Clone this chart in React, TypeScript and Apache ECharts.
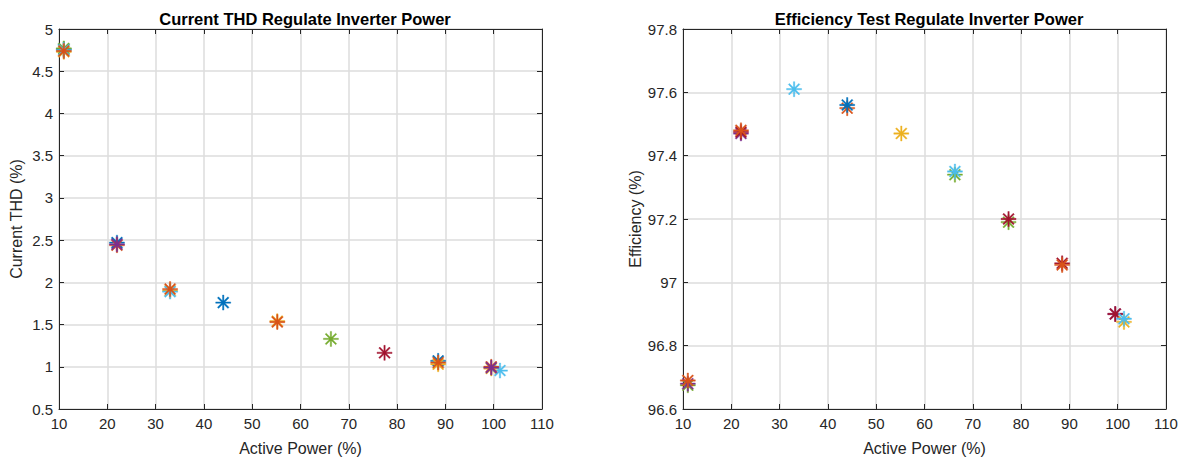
import React, { useEffect, useRef } from "react";
import * as echarts from "echarts";

// ---- data (x = active power %, y = value) ----
const xTicksMin = 10;
const xTicksMax = 110;

// Left: Current THD (%)
const thdBlue = [[11, 4.76], [22, 2.47], [44, 1.76], [88.5, 1.07]];
const thdOrange = [[11, 4.74], [22, 2.44], [33, 1.92], [55.2, 1.53], [88.5, 1.05], [99.5, 1.0]];
const thdYellow = [[11, 4.73], [33, 1.9], [55.2, 1.54], [88.5, 1.03], [99.5, 0.98]];
const thdPurple = [[22, 2.45], [99.5, 0.99]];
const thdGreen = [[11, 4.77], [66.3, 1.33]];
const thdLightBlue = [[11, 4.75], [33, 1.89], [101.3, 0.955]];
const thdRed = [[77.4, 1.165]];

// Right: Efficiency (%)
const effBlue = [[44, 97.56]];
const effOrange = [[11, 96.69], [22, 97.48], [44, 97.55], [88.5, 97.055]];
const effYellow = [[55.2, 97.47], [101.3, 96.875]];
const effPurple = [[11, 96.68], [22, 97.47], [99.5, 96.9]];
const effGreen = [[11, 96.675], [66.3, 97.34], [77.4, 97.19]];
const effLightBlue = [[33, 97.61], [66.3, 97.35], [101.3, 96.885]];
const effRed = [[22, 97.475], [77.4, 97.2], [88.5, 97.06], [99.5, 96.9]];

const C = {
  blue: "#0072BD",
  orange: "#D95319",
  yellow: "#EDB120",
  purple: "#7E2F8E",
  green: "#77AC30",
  lightBlue: "#4DBEEE",
  red: "#A2142F",
};

const STAR =
  "path://M0 9.1H20V10.9H0Z M9.1 0H10.9V20H9.1Z M3.7 2.3L17.7 16.3L16.3 17.7L2.3 3.7Z M16.3 2.3L17.7 3.7L3.7 17.7L2.3 16.3Z";

const FONT = "'Liberation Sans', Arial, Helvetica, sans-serif";
const AX = "#262626";

export default function App() {
  const ref = useRef<HTMLDivElement>(null);
  useEffect(() => {
    document.body.style.margin = "0";
    const chart = echarts.init(ref.current!, undefined, { renderer: "svg" });

    const grids = [
      { left: 59, right: 645, top: 29, bottom: 51 },
      { left: 683, right: 21, top: 29, bottom: 51 },
    ];

    const mkX = (gi: number, bottom: boolean) => ({
      type: "value",
      gridIndex: gi,
      min: xTicksMin,
      max: xTicksMax,
      interval: 10,
      position: bottom ? "bottom" : "top",
      name: bottom ? "Active Power (%)" : "",
      nameLocation: "middle",
      nameGap: 31,
      nameTextStyle: { color: AX, fontFamily: FONT, fontSize: 16 },
      axisLine: { show: true, onZero: false, lineStyle: { color: AX, width: 1 } },
      axisTick: { show: true, inside: true, length: 5, lineStyle: { color: AX } },
      axisLabel: { show: bottom, color: AX, fontFamily: FONT, fontSize: 15, margin: 7 },
      splitLine: { show: bottom, lineStyle: { color: "#dcdcdc", width: 1.5 } },
    });

    const mkY = (gi: number, left: boolean, min: number, max: number, interval: number, name: string) => ({
      type: "value",
      gridIndex: gi,
      min,
      max,
      interval,
      position: left ? "left" : "right",
      name: left ? name : "",
      nameLocation: "middle",
      nameGap: 35,
      nameTextStyle: { color: AX, fontFamily: FONT, fontSize: 16 },
      axisLine: { show: true, onZero: false, lineStyle: { color: AX, width: 1 } },
      axisTick: { show: true, inside: true, length: 5, lineStyle: { color: AX } },
      axisLabel: { show: left, color: AX, fontFamily: FONT, fontSize: 15, margin: 6 },
      splitLine: { show: left, lineStyle: { color: "#dcdcdc", width: 1.5 } },
    });

    const sc = (data: number[][], color: string, xi: number, yi: number) => ({
      type: "scatter",
      xAxisIndex: xi,
      yAxisIndex: yi,
      data,
      symbol: STAR,
      symbolSize: 15,
      itemStyle: { color, borderColor: color, borderWidth: 0.4, opacity: 1 },
      silent: true,
    });

    const leftOrder: [number[][], string][] = [
      [thdBlue, C.blue],
      [thdYellow, C.yellow],
      [thdGreen, C.green],
      [thdLightBlue, C.lightBlue],
      [thdRed, C.red],
      [thdOrange, C.orange],
      [thdPurple, C.purple],
    ];
    const rightOrder: [number[][], string][] = [
      [effGreen, C.green],
      [effPurple, C.purple],
      [effRed, C.red],
      [effOrange, C.orange],
      [effYellow, C.yellow],
      [effBlue, C.blue],
      [effLightBlue, C.lightBlue],
    ];

    chart.setOption({
      animation: false,
      backgroundColor: "#ffffff",
      title: [
        {
          text: "Current THD Regulate Inverter Power",
          left: 300,
          top: 5,
          textAlign: "center",
          textStyle: { fontFamily: FONT, fontSize: 16.5, fontWeight: "bold", color: "#000" },
        },
        {
          text: "Efficiency Test Regulate Inverter Power",
          left: 924,
          top: 5,
          textAlign: "center",
          textStyle: { fontFamily: FONT, fontSize: 16.5, fontWeight: "bold", color: "#000" },
        },
      ],
      grid: grids,
      xAxis: [mkX(0, true), mkX(0, false), mkX(1, true), mkX(1, false)],
      yAxis: [
        mkY(0, true, 0.5, 5, 0.5, "Current THD (%)"),
        mkY(0, false, 0.5, 5, 0.5, ""),
        mkY(1, true, 96.6, 97.8, 0.2, "Efficiency (%)"),
        mkY(1, false, 96.6, 97.8, 0.2, ""),
      ],
      series: [
        ...leftOrder.map(([d, c]) => sc(d, c, 0, 0)),
        ...rightOrder.map(([d, c]) => sc(d, c, 2, 2)),
      ],
    });
    return () => chart.dispose();
  }, []);
  return <div ref={ref} style={{ width: 1187, height: 461 }} />;
}
